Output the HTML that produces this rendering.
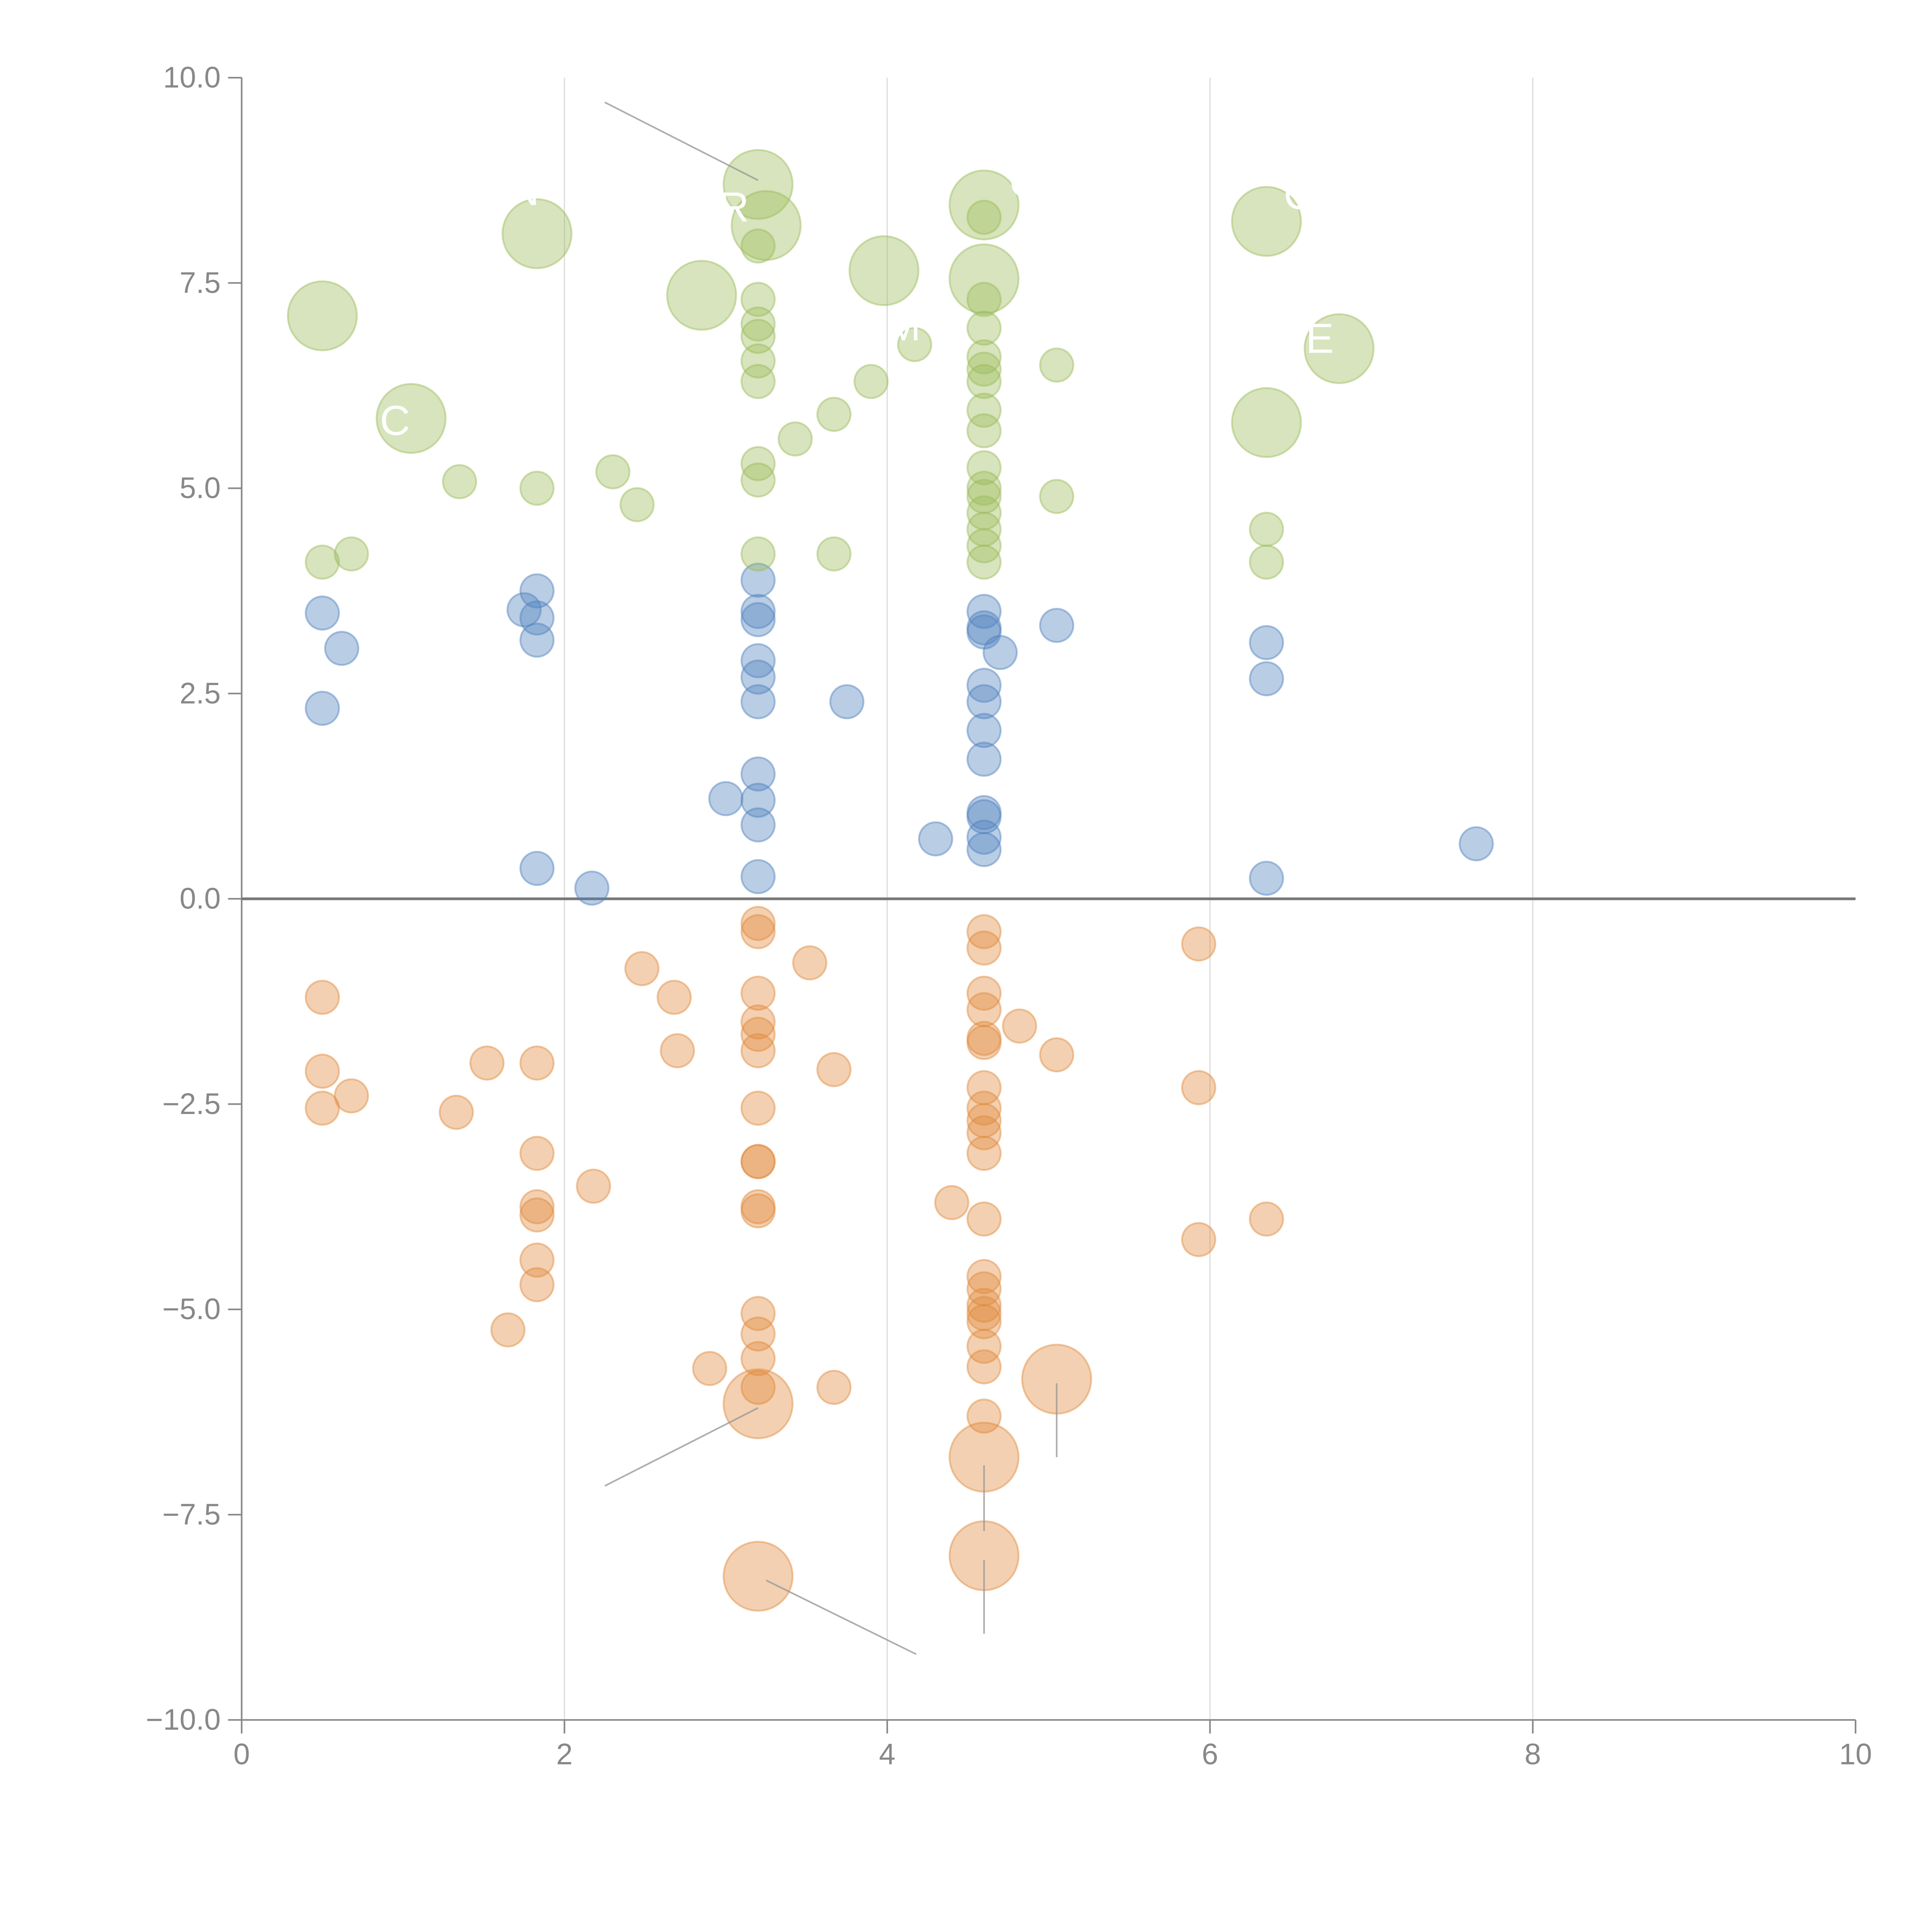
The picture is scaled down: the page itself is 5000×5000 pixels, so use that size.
<!DOCTYPE html>
<html><head><meta charset="utf-8"><style>
html,body{margin:0;padding:0;background:#fff;}
svg{display:block;}
text{font-family:"Liberation Sans",Arial,sans-serif;}
</style></head><body>
<svg id="chart" width="5000" height="5000" viewBox="0 0 1567 1567" xmlns="http://www.w3.org/2000/svg">
<g id="grid"></g>
<g id="axes"></g>
<g id="bubbles"></g>
<g id="leaders"></g>
<g id="labels"></g>
</svg>
<script>
const xTicks=[0,2,4,6,8,10];
const xTickLabels=["0","2","4","6","8","10"];
const yTicks=[-10,-7.5,-5,-2.5,0,2.5,5,7.5,10];
const yTickLabels=["\u221210.0","\u22127.5","\u22125.0","\u22122.5","0.0","2.5","5.0","7.5","10.0"];

const greenX=[0.5,0.68,1.35,1.83,2.3,2.45,3.2,3.2,3.2,3.2,3.2,3.2,3.2,3.2,3.2,3.43,3.67,3.67,3.9,4.17,4.6,4.6,4.6,4.6,4.6,4.6,4.6,4.6,4.6,4.6,4.6,4.6,4.6,4.6,4.6,5.05,5.05,6.35,6.35,
 0.5,1.05,1.83,2.85,3.2,3.25,3.98,4.6,4.6,6.35,6.35,6.8];
const greenY=[4.1,4.2,5.08,5.0,5.2,4.8,4.2,5.1,5.3,6.3,6.55,6.85,7.0,7.3,7.95,5.6,5.9,4.2,6.3,6.75,4.1,4.3,4.5,4.7,4.9,5.0,5.25,5.7,5.95,6.3,6.45,6.6,6.95,7.3,8.3,6.5,4.9,4.5,4.1,
 7.1,5.85,8.1,7.35,8.7,8.2,7.65,8.45,7.55,8.25,5.8,6.7];
const greenSize=[1,1,1,1,1,1,1,1,1,1,1,1,1,1,1,1,1,1,1,1,1,1,1,1,1,1,1,1,1,1,1,1,1,1,1,1,1,1,1,
 4.3,4.3,4.3,4.3,4.3,4.3,4.3,4.3,4.3,4.3,4.3,4.3];

const blueX=[0.5,0.62,0.5,1.75,1.83,1.83,1.83,1.83,2.17,3.0,3.2,3.2,3.2,3.2,3.2,3.2,3.2,3.2,3.2,3.2,3.75,4.3,4.6,4.6,4.6,4.7,4.6,4.6,4.6,4.6,4.6,4.6,4.6,4.6,5.05,6.35,6.35,6.35,7.65];
const blueY=[3.48,3.05,2.32,3.52,3.75,3.42,3.15,0.37,0.13,1.22,3.88,3.5,3.4,2.9,2.7,2.4,1.52,1.2,0.9,0.27,2.4,0.73,3.5,3.3,3.25,3.0,2.6,2.4,2.05,1.7,1.05,1.0,0.75,0.6,3.33,3.12,2.68,0.25,0.67];

const orangeX=[0.5,0.5,0.5,0.68,1.33,1.52,1.83,1.83,1.83,1.83,1.83,1.83,1.65,2.18,2.48,2.68,2.7,2.9,3.2,3.2,3.2,3.2,3.2,3.2,3.2,3.2,3.2,3.2,3.2,3.2,3.2,3.2,3.2,3.52,3.67,3.67,4.4,4.6,4.6,4.6,4.6,4.6,4.6,4.6,4.6,4.6,4.6,4.6,4.6,4.6,4.6,4.6,4.6,4.6,4.6,4.6,4.6,4.82,5.05,5.93,5.93,5.93,6.35,
 3.2,4.6,5.05,4.6,3.2];
const orangeY=[-1.2,-2.1,-2.55,-2.4,-2.6,-2.0,-2.0,-3.1,-3.75,-3.85,-4.4,-4.7,-5.25,-3.5,-0.85,-1.2,-1.85,-5.72,-0.3,-0.4,-1.15,-1.5,-1.65,-1.85,-2.55,-3.2,-3.2,-3.75,-3.8,-5.05,-5.3,-5.6,-5.95,-0.78,-2.08,-5.95,-3.7,-0.4,-0.6,-1.15,-1.35,-1.7,-1.75,-2.3,-2.55,-2.7,-2.85,-3.1,-3.9,-4.6,-4.75,-4.95,-5.05,-5.15,-5.45,-5.7,-6.3,-1.55,-1.9,-0.55,-2.3,-4.15,-3.9,
 -6.15,-6.8,-5.85,-8.0,-8.25];
const orangeSize=orangeX.map((_,i)=>i>=63?4.3:1);

const labelText=["R","C","C","E","M","C","N"];
const labelX=[3.05,4.85,6.55,6.68,4.1,0.95,1.75];
const labelY=[8.25,8.55,8.4,6.65,6.8,5.65,8.45];

const leaderX1=[2.25,2.25,3.25,5.05,4.6,4.6];
const leaderY1=[9.7,-7.15,-8.3,-5.9,-6.9,-8.05];
const leaderX2=[3.2,3.2,4.18,5.05,4.6,4.6];
const leaderY2=[8.75,-6.2,-9.2,-6.8,-7.7,-8.95];

const NS="http://www.w3.org/2000/svg";
const X0=196,X1=1505,Y0=1395,Y1=63;
function sx(v){return X0+(v-0)/(10-0)*(X1-X0);}
function sy(v){return Y0-(v+10)/20*(Y0-Y1);}
function mk(tag,attrs,parent){const e=document.createElementNS(NS,tag);for(const k in attrs)e.setAttribute(k,attrs[k]);parent.appendChild(e);return e;}

const grid=document.getElementById('grid'),axes=document.getElementById('axes'),bub=document.getElementById('bubbles'),lead=document.getElementById('leaders'),labs=document.getElementById('labels');
xTicks.forEach((t,i)=>{
  if(t>0&&t<10){const g=mk('line',{x1:sx(t),x2:sx(t),y1:Y1,y2:Y0,stroke:'#dddddd','stroke-width':1},grid);
  
  }
  const tk=mk('line',{x1:sx(t),x2:sx(t),y1:Y0,y2:Y0+11,stroke:'#888','stroke-width':1.3},axes);
  
  
  const tx=mk('text',{x:sx(t),y:Y0+36,'text-anchor':'middle','font-size':24,fill:'#888'},axes);
  tx.textContent=xTickLabels[i];
  
  
});
yTicks.forEach((t,i)=>{
  const tk=mk('line',{x1:X0-11,x2:X0,y1:sy(t),y2:sy(t),stroke:'#888','stroke-width':1.3},axes);
  
  
  const tx=mk('text',{x:X0-17,y:sy(t)+8,'text-anchor':'end','font-size':24,fill:'#888'},axes);
  tx.textContent=yTickLabels[i];
  
  
});
const ya=mk('line',{x1:X0,x2:X0,y1:Y1,y2:Y0,stroke:'#888','stroke-width':1.3},axes);


const xa=mk('line',{x1:X0,x2:X1,y1:Y0,y2:Y0,stroke:'#888','stroke-width':1.3},axes);



function drawSeries(xs,ys,sz,fill,stroke,name){
  xs.forEach((x,i)=>{
    const s=sz?sz[i]:1;
    const c=mk('circle',{cx:sx(x),cy:sy(ys[i]),r:13.5*Math.sqrt(s),fill:fill,'fill-opacity':0.4,stroke:stroke,'stroke-opacity':0.45,'stroke-width':1.5},bub);
    
    
  });
}
drawSeries(blueX,blueY,null,'#4f81bd','#4f81bd','bubble-blue');
drawSeries(greenX,greenY,greenSize,'#9bbb59','#9bbb59','bubble-green');
drawSeries(orangeX,orangeY,orangeSize,'#e08a3c','#e08a3c','bubble-orange');

const zl=mk('line',{x1:X0,x2:X1,y1:sy(0),y2:sy(0),stroke:'#777','stroke-width':2.2},axes);



leaderX1.forEach((x,i)=>{
  const l=mk('line',{x1:sx(x),y1:sy(leaderY1[i]),x2:sx(leaderX2[i]),y2:sy(leaderY2[i]),stroke:'#999','stroke-width':1.3,'stroke-opacity':0.8},lead);
  
  
});
labelText.forEach((t,i)=>{
  const tx=mk('text',{x:sx(labelX[i]),y:sy(labelY[i]),'text-anchor':'middle','font-size':34,fill:'#ffffff'},labs);
  tx.textContent=t;
  
  
});
</script>
</body></html>
